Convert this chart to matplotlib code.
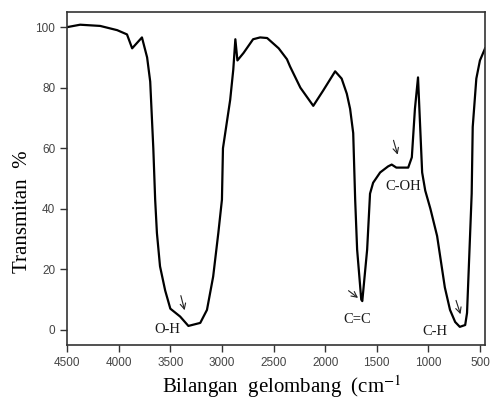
import matplotlib.pyplot as plt

plt.rcParams['mathtext.fontset'] = 'stix'

# IR spectrum
wavenumber = [4500, 4374, 4180, 4015, 3920, 3870, 3775, 3725, 3695, 3665,
              3647, 3630, 3600, 3550, 3500, 3405, 3325, 3210, 3145, 3085,
              3035, 3000, 2990, 2920, 2890, 2870, 2850, 2790, 2698, 2630,
              2562, 2450, 2370, 2340, 2240, 2115, 2020, 1903, 1840, 1790,
              1758, 1728, 1709, 1690, 1650, 1640, 1593, 1565, 1535, 1467,
              1390, 1355, 1310, 1195, 1160, 1130, 1100, 1060, 1030, 980,
              915, 840, 790, 740, 695, 643, 625, 580, 570, 535, 500, 450]
transmitan = [100, 100.8, 100.4, 99, 97.6, 93, 96.6, 90, 82, 60,
              43, 32, 21, 13, 7, 4.4, 1.3, 2.3, 6.6, 17.6,
              32, 43, 60, 76, 86, 96, 89, 91.5, 96, 96.6,
              96.4, 93, 89.4, 87, 80, 74, 79, 85.4, 83, 78,
              73, 65, 43, 26.5, 10, 9.5, 26.5, 45, 48.6, 52,
              54, 54.6, 53.6, 53.6, 57, 73, 83.4, 52, 46, 40,
              31, 14, 6.6, 2.6, 1, 1.6, 5.6, 45, 67, 83, 89, 93]

x_ticks = [4500, 4000, 3500, 3000, 2500, 2000, 1500, 1000, 500]
y_ticks = [0, 20, 40, 60, 80, 100]

# label, text position, arrow tail, arrow head
labels = ['O-H', 'C=C', 'C-OH', 'C-H']
label_pos = [(3530, 0), (1690, 3.3), (1245, 47.5), (935, -0.7)]
arrow_tail = [(3405, 12.2), (1795, 13.5), (1345, 63.5), (740, 10.6)]
arrow_head = [(3355, 5.6), (1660, 10), (1290, 57), (680, 4.3)]

fig = plt.figure(figsize=(4.9, 4), dpi=100)
ax = fig.add_axes([0.137, 0.1375, 0.853, 0.8325])
ax.plot(wavenumber, transmitan, color='black', lw=1.6)

ax.set_xlim(4500, 450)
ax.set_ylim(-5, 105)
ax.set_xticks(x_ticks)
ax.set_yticks(y_ticks)
ax.tick_params(direction='out', length=5, width=1, colors='#333333',
               labelcolor='#444444', labelsize=8.5)
for lab in ax.get_xticklabels() + ax.get_yticklabels():
    lab.set_family('Liberation Sans')
for s in ax.spines.values():
    s.set_color('#333333')
    s.set_linewidth(1.2)

for lab, pos, tail, head in zip(labels, label_pos, arrow_tail, arrow_head):
    ax.text(pos[0], pos[1], lab, ha='center', va='center',
            family='Liberation Serif', fontsize=10.5, color='#1a1a1a')
    ax.annotate('', xy=head, xytext=tail,
                arrowprops=dict(arrowstyle='->', color='#222222', lw=0.8))

fig.text(0.045, 0.47, 'Transmitan  %', rotation=90, ha='center', va='center',
         family='Liberation Serif', fontsize=15)
fig.text(0.575, 0.034, 'Bilangan  gelombang  (cm$^{\\mathrm{-1}}$', ha='center',
         va='center', family='Liberation Serif', fontsize=15)

fig.savefig('out.png', dpi=100)
